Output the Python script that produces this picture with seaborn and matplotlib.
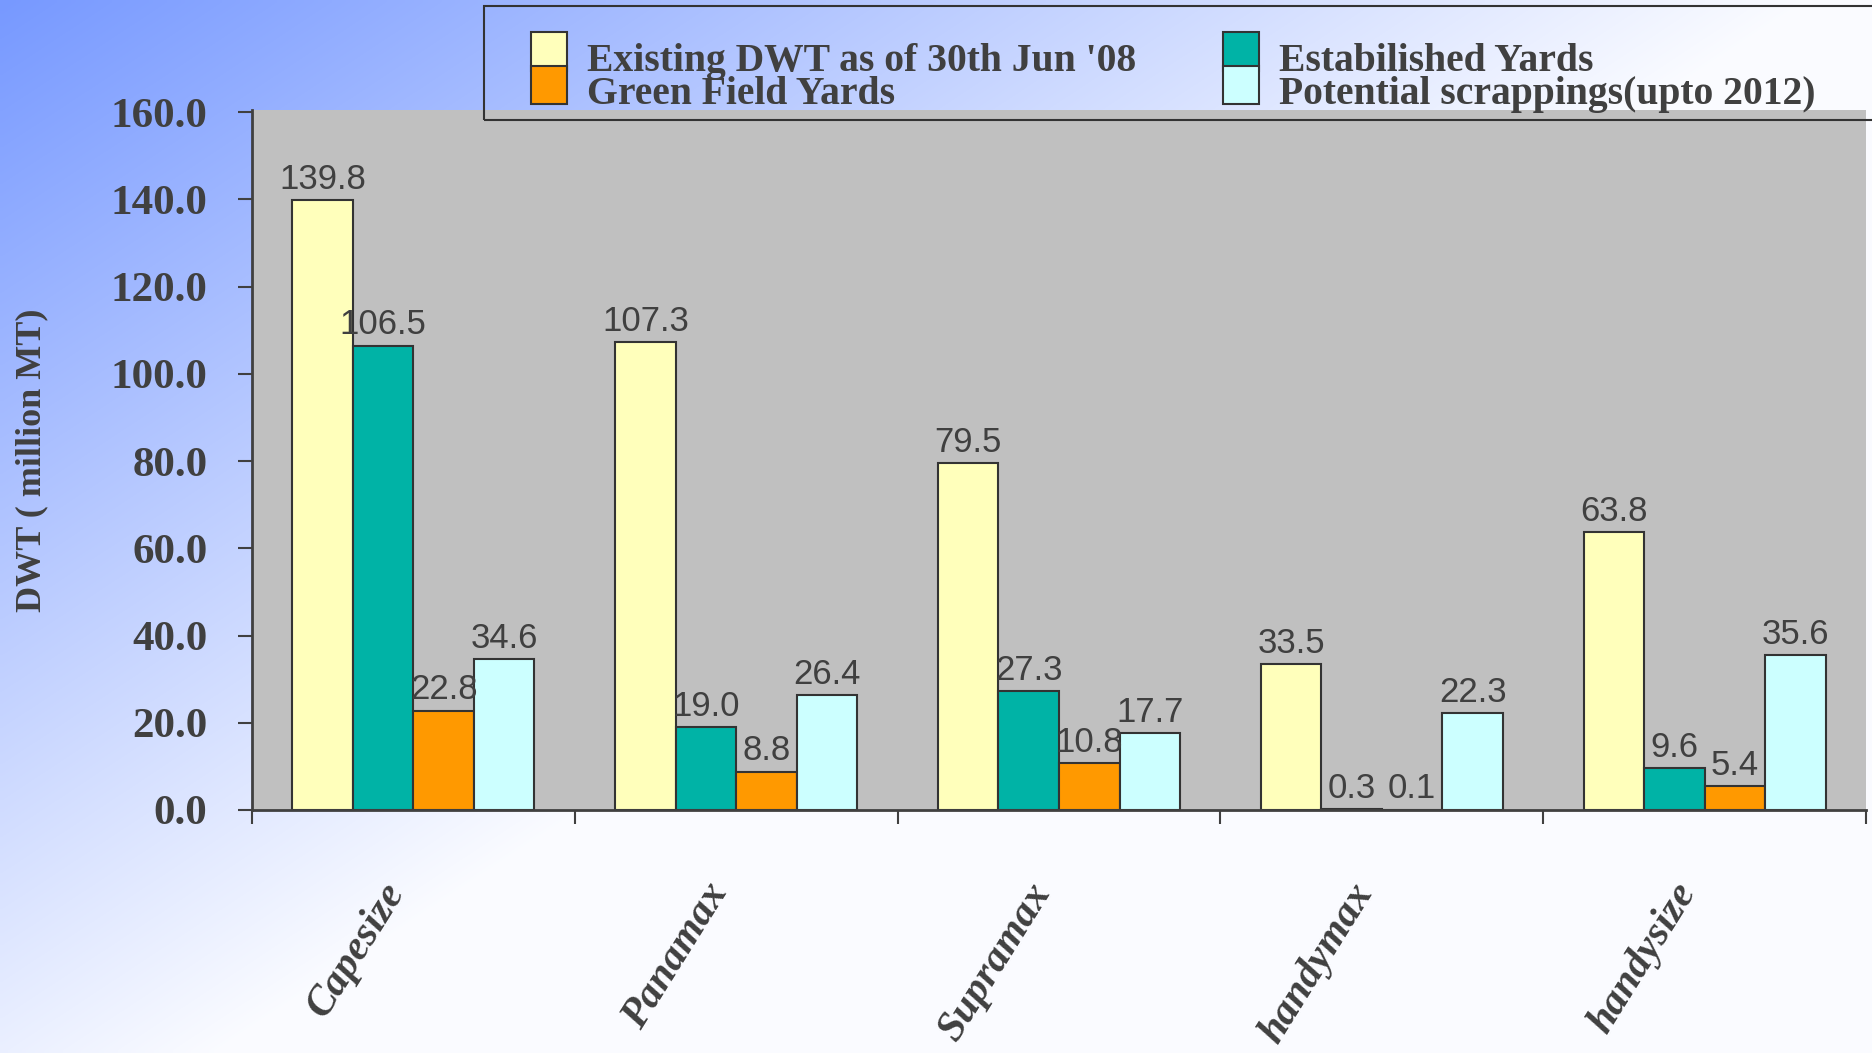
import numpy as np
import pandas as pd
import seaborn as sns
import matplotlib.pyplot as plt
import matplotlib.transforms as mtransforms
from matplotlib.patches import Patch, Rectangle

# chart data
categories = ['Capesize', 'Panamax', 'Supramax', 'handymax', 'handysize']
existing = [139.8, 107.3, 79.5, 33.5, 63.8]
established = [106.5, 19.0, 27.3, 0.3, 9.6]
green_field = [22.8, 8.8, 10.8, 0.1, 5.4]
scrapping = [34.6, 26.4, 17.7, 22.3, 35.6]
series_names = ["Existing DWT as of 30th Jun '08", 'Estabilished Yards',
                'Green Field Yards', 'Potential scrappings(upto 2012)']
colors = ['#FFFFBB', '#00B3A6', '#FF9900', '#CCFFFF']
y_ticks = [0, 20, 40, 60, 80, 100, 120, 140, 160]

df = pd.DataFrame({
    'category': categories * 4,
    'series': np.repeat(series_names, len(categories)),
    'value': existing + established + green_field + scrapping,
})

sns.set_theme(style='white')
plt.rcParams['font.family'] = ['Liberation Serif', 'DejaVu Serif']
text_col = '#404040'

fig = plt.figure(figsize=(18.72, 10.53), dpi=100)

# diagonal blue-to-white background
bg = fig.add_axes([0, 0, 1, 1], zorder=-10)
W, H = 400, 225
u = np.linspace(0, 1, W)[None, :]
v = np.linspace(0, 1, H)[:, None]
b = np.clip(1 - 1.0 * u - 0.85 * v, 0.03, 1)
img = np.empty((H, W, 3))
img[..., 0] = (255 - 136 * b) / 255
img[..., 1] = (255 - 102 * b) / 255
img[..., 2] = 1.0
bg.imshow(img, aspect='auto', extent=[0, 1, 0, 1], interpolation='bilinear')
bg.axis('off')

ax = fig.add_axes([252 / 1872, 1 - 810 / 1053, 1614 / 1872, 700 / 1053])
ax.set_facecolor('#C0C0C0')
sns.barplot(data=df, x='category', y='value', hue='series', hue_order=series_names,
            palette=colors, width=0.75, saturation=1, edgecolor='#333333',
            linewidth=1.5, legend=False, ax=ax)

for c in ax.containers:
    ax.bar_label(c, fmt='%.1f', padding=3, fontsize=25, color=text_col,
                 family='Liberation Sans')

ax.set_xlim(-0.5, 4.5)
ax.set_ylim(0, 160.5)
for s in ['top', 'right']:
    ax.spines[s].set_visible(False)
for s in ['left', 'bottom']:
    ax.spines[s].set_color(text_col)
    ax.spines[s].set_linewidth(2)

ax.set_yticks(y_ticks)
ax.set_yticklabels([f'{t:.1f}' for t in y_ticks], fontsize=31, fontweight='bold',
                   color=text_col)
ax.tick_params(axis='y', left=True, direction='out', length=10, width=1.5,
               color=text_col, pad=22)

ax.set_xticks(range(len(categories)))
ax.set_xticklabels(categories, rotation=58, ha='right', va='center',
                   rotation_mode='anchor', fontsize=30, fontweight='bold',
                   fontstyle='italic', color=text_col)
ax.tick_params(axis='x', which='major', length=0, pad=55)
shift = mtransforms.ScaledTranslation(-12 / 72, 0, fig.dpi_scale_trans)
for lab in ax.get_xticklabels():
    lab.set_transform(lab.get_transform() + shift)
ax.set_xticks(np.arange(-0.5, len(categories), 1), minor=True)
ax.tick_params(axis='x', which='minor', bottom=True, direction='out', length=10,
               width=1.5, color=text_col)

ax.set_xlabel('')
ax.set_ylabel('DWT ( million MT)', fontsize=26, fontweight='bold', color=text_col)
ax.yaxis.set_label_coords(-0.126, 0.5)

# legend, two columns
order = [0, 2, 1, 3]
handles = [Patch(facecolor=colors[i], edgecolor='#333333', linewidth=1.5) for i in order]
labels = [series_names[i] for i in order]
leg = fig.legend(handles, labels, loc='upper left', bbox_to_anchor=(531 / 1872, 1 - 32 / 1053),
                 ncol=2, frameon=False,
                 prop={'family': 'Liberation Serif', 'weight': 'bold', 'size': 28.5},
                 labelcolor=text_col, handlelength=0.91, handleheight=1.12, handletextpad=0.5,
                 columnspacing=2.2, labelspacing=-0.2, borderpad=0, borderaxespad=0)
for t in leg.get_texts():
    t.set_y(-6)
fig.add_artist(Rectangle((484 / 1872, 1 - 120 / 1053), 1.0, 114 / 1053,
                         transform=fig.transFigure, fill=False, edgecolor='#333333',
                         linewidth=1.5, zorder=5))

fig.savefig('out.png', dpi=100)
